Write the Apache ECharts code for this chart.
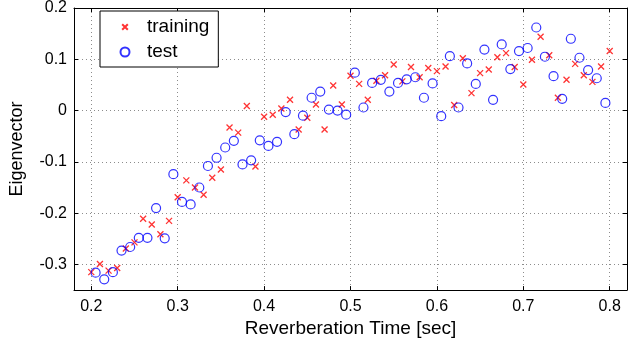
<!DOCTYPE html>
<html>
<head>
<meta charset="utf-8">
<script src="https://cdn.jsdelivr.net/npm/echarts@6/dist/echarts.min.js"></script>
<style>
  html, body { margin: 0; padding: 0; background: #fff; }
  #chart { width: 629px; height: 343px; }
</style>
</head>
<body>
<div id="chart"></div>
<script>
// training points (red x)
const trainX = [0.20, 0.21, 0.22, 0.23, 0.24, 0.25, 0.26, 0.27, 0.28, 0.29,
  0.30, 0.31, 0.32, 0.33, 0.34, 0.35, 0.36, 0.37, 0.38, 0.39,
  0.40, 0.41, 0.42, 0.43, 0.44, 0.45, 0.46, 0.47, 0.48, 0.49,
  0.50, 0.51, 0.52, 0.53, 0.54, 0.55, 0.56, 0.57, 0.58, 0.59,
  0.60, 0.61, 0.62, 0.63, 0.64, 0.65, 0.66, 0.67, 0.68, 0.69,
  0.70, 0.71, 0.72, 0.73, 0.74, 0.75, 0.76, 0.77, 0.78, 0.79, 0.80];
const trainY = [-0.315, -0.299, -0.312, -0.307, -0.269, -0.257, -0.211, -0.222, -0.241, -0.215,
  -0.169, -0.136, -0.150, -0.164, -0.131, -0.115, -0.033, -0.043, 0.009, -0.109,
  -0.012, -0.008, 0.004, 0.021, -0.037, -0.014, 0.012, -0.037, 0.049, 0.012,
  0.068, 0.052, 0.021, 0.058, 0.069, 0.090, 0.057, 0.085, 0.065, 0.083,
  0.077, 0.086, 0.011, 0.102, 0.034, 0.073, 0.080, 0.104, 0.112, 0.085,
  0.051, 0.099, 0.144, 0.108, 0.025, 0.060, 0.091, 0.069, 0.056, 0.086, 0.116];

// test points (blue o)
const testX = [0.205, 0.215, 0.225, 0.235, 0.245, 0.255, 0.265, 0.275, 0.285, 0.295,
  0.305, 0.315, 0.325, 0.335, 0.345, 0.355, 0.365, 0.375, 0.385, 0.395,
  0.405, 0.415, 0.425, 0.435, 0.445, 0.455, 0.465, 0.475, 0.485, 0.495,
  0.505, 0.515, 0.525, 0.535, 0.545, 0.555, 0.565, 0.575, 0.585, 0.595,
  0.605, 0.615, 0.625, 0.635, 0.645, 0.655, 0.665, 0.675, 0.685, 0.695,
  0.705, 0.715, 0.725, 0.735, 0.745, 0.755, 0.765, 0.775, 0.785, 0.795];
const testY = [-0.316, -0.329, -0.315, -0.273, -0.266, -0.248, -0.248, -0.190, -0.249, -0.124,
  -0.178, -0.183, -0.150, -0.108, -0.092, -0.072, -0.059, -0.105, -0.097, -0.058,
  -0.069, -0.061, -0.003, -0.046, -0.010, 0.025, 0.037, 0.002, 0.000, -0.008,
  0.074, 0.006, 0.054, 0.060, 0.037, 0.054, 0.061, 0.065, 0.025, 0.053,
  -0.011, 0.106, 0.006, 0.092, 0.052, 0.119, 0.021, 0.129, 0.081, 0.116,
  0.122, 0.162, 0.105, 0.067, 0.023, 0.140, 0.103, 0.079, 0.063, 0.015];

const xRange = [0.18, 0.82];
const yRange = [-0.35, 0.2];

const font = "'Liberation Sans', Arial, Helvetica, sans-serif";
const crossPath = "path://M0,0L10,10M0,10L10,0";
// same cross, padded so it draws smaller inside the 9px legend box
const crossLegend = "path://M0,0M16,16M3,3L13,13M3,13L13,3";

function pairs(xs, ys) {
  return xs.map((x, i) => [x, ys[i]]);
}

const chart = echarts.init(document.getElementById("chart"));

const gridLine = {
  show: true,
  lineStyle: { color: "#8c8c8c", width: 1, type: [1, 3] },
};
const boxTick = { show: true, inside: true, length: 4, lineStyle: { color: "#000" } };
const boxLine = { show: true, onZero: false, lineStyle: { color: "#000", width: 1 } };

const option = {
  backgroundColor: "#fff",
  animation: false,
  grid: { left: 73, right: 2, top: 8, bottom: 50, containLabel: false },
  legend: {
    orient: "vertical",
    left: 100,
    top: 11,
    padding: [6.5, 9, 5.5, 19.5],
    itemWidth: 9,
    itemHeight: 9,
    itemGap: 6,
    backgroundColor: "#fff",
    borderColor: "#000",
    borderWidth: 1,
    textStyle: { color: "#000", fontSize: 19, fontFamily: font, padding: [0, 0, 0, 12.5] },
    data: [
      { name: "training", icon: crossLegend },
      { name: "test", icon: "circle" },
    ],
  },
  xAxis: [
    {
      type: "value",
      min: xRange[0],
      max: xRange[1],
      splitNumber: 6,
      position: "bottom",
      name: "Reverberation Time [sec]",
      nameLocation: "middle",
      nameGap: 24,
      nameTextStyle: { color: "#000", fontSize: 19, fontFamily: font },
      axisLine: boxLine,
      axisTick: boxTick,
      axisLabel: {
        color: "#000", fontSize: 16, fontFamily: font, margin: 8,
        showMinLabel: false, showMaxLabel: false,
      },
      splitLine: gridLine,
    },
    {
      type: "value", min: xRange[0], max: xRange[1], splitNumber: 6, position: "top",
      axisLine: boxLine,
      axisTick: boxTick,
      axisLabel: { show: false },
      splitLine: { show: false },
    },
  ],
  yAxis: [
    {
      type: "value",
      min: yRange[0],
      max: yRange[1],
      splitNumber: 5,
      position: "left",
      name: "Eigenvector",
      nameLocation: "middle",
      nameGap: 48,
      nameTextStyle: { color: "#000", fontSize: 18, fontFamily: font },
      axisLine: boxLine,
      axisTick: boxTick,
      axisLabel: {
        color: "#000", fontSize: 16, fontFamily: font, margin: 7,
        showMinLabel: false,
      },
      splitLine: gridLine,
    },
    {
      type: "value", min: yRange[0], max: yRange[1], splitNumber: 5, position: "right",
      axisLine: boxLine,
      axisTick: boxTick,
      axisLabel: { show: false },
      splitLine: { show: false },
    },
  ],
  series: [
    {
      name: "training",
      type: "scatter",
      symbol: crossPath,
      symbolSize: 6,
      itemStyle: { color: "transparent", borderColor: "#ff0000", borderWidth: 1.3 },
      data: pairs(trainX, trainY),
    },
    {
      name: "test",
      type: "scatter",
      symbol: "circle",
      symbolSize: 9,
      itemStyle: { color: "transparent", borderColor: "#0000ff", borderWidth: 1.2 },
      data: pairs(testX, testY),
    },
  ],
};

option && chart.setOption(option);
</script>
</body>
</html>
